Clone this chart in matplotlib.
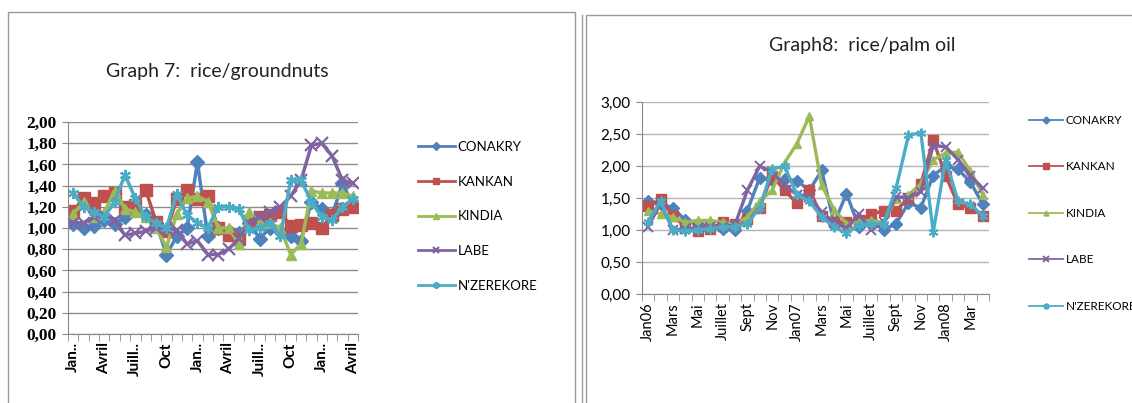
import numpy as np
import matplotlib
matplotlib.use("Agg")
import matplotlib.pyplot as plt
from matplotlib.patches import Rectangle
from matplotlib.lines import Line2D

# series names and Excel-like colours
cities = ["CONAKRY", "KANKAN", "KINDIA", "LABE", "N'ZEREKORE"]
colors = ["#4F81BD", "#C0504D", "#9BBB59", "#8064A2", "#4BACC6"]
markers = ["D", "s", "^", "x", (6, 2, 0)]

# Graph 7: rice/groundnuts, Jan 06 .. Avril 08 (28 months)
g7_labels = ["Jan..", "Avril", "Juill..", "Oct", "Jan..", "Avril", "Juill..", "Oct", "Jan..", "Avril"]
g7_conakry = [1.04, 1.00, 1.02, 1.08, 1.04, 1.10, 1.18, 1.12, 1.05, 0.75, 0.92, 1.00, 1.62, 0.92,
              1.00, 0.97, 0.95, 1.05, 0.90, 1.00, 0.97, 0.92, 0.88, 1.25, 1.18, 1.12, 1.42, 1.22]
g7_kankan = [1.16, 1.28, 1.24, 1.30, 1.33, 1.20, 1.22, 1.36, 1.06, 0.97, 1.27, 1.36, 1.27, 1.30,
             1.00, 0.93, 0.90, 1.07, 1.10, 1.12, 1.15, 1.02, 1.03, 1.05, 1.00, 1.12, 1.18, 1.20]
g7_kindia = [1.13, 1.25, 1.10, 1.15, 1.35, 1.18, 1.15, 1.10, 1.00, 0.82, 1.13, 1.28, 1.30, 1.25,
             1.00, 1.00, 0.85, 1.15, 1.05, 1.05, 1.00, 0.75, 0.85, 1.35, 1.33, 1.33, 1.33, 1.30]
g7_labe = [1.05, 1.05, 1.10, 1.12, 1.08, 0.93, 0.95, 0.97, 1.00, 1.00, 0.98, 0.85, 0.88, 0.75,
           0.75, 0.80, 0.90, 1.05, 1.10, 1.15, 1.20, 1.30, 1.45, 1.78, 1.80, 1.68, 1.45, 1.42]
g7_nzerekore = [1.33, 1.20, 1.15, 1.10, 1.25, 1.50, 1.28, 1.10, 1.05, 1.00, 1.32, 1.12, 1.05, 1.00,
                1.20, 1.20, 1.18, 0.98, 1.00, 1.05, 0.92, 1.45, 1.45, 1.25, 1.10, 1.08, 1.20, 1.27]

# Graph 8: rice/palm oil, Jan06 .. Avr08 (28 months)
g8_labels = ["Jan06", "Mars", "Mai", "Juillet", "Sept", "Nov", "Jan07", "Mars", "Mai",
             "Juillet", "Sept", "Nov", "Jan08", "Mar"]
g8_conakry = [1.45, 1.40, 1.35, 1.15, 1.10, 1.05, 1.02, 1.00, 1.30, 1.82, 1.78, 1.80, 1.77, 1.62,
              1.93, 1.10, 1.57, 1.05, 1.15, 1.00, 1.10, 1.42, 1.35, 1.85, 2.00, 1.95, 1.75, 1.40]
g8_kankan = [1.37, 1.48, 1.22, 1.05, 0.98, 1.02, 1.12, 1.10, 1.17, 1.35, 1.85, 1.62, 1.42, 1.63,
             1.22, 1.13, 1.12, 1.15, 1.25, 1.30, 1.30, 1.50, 1.72, 2.40, 1.85, 1.40, 1.35, 1.22]
g8_kindia = [1.30, 1.25, 1.20, 1.12, 1.15, 1.15, 1.12, 1.10, 1.20, 1.45, 1.62, 2.05, 2.35, 2.78,
             1.70, 1.32, 1.10, 1.12, 1.15, 1.12, 1.48, 1.55, 1.72, 2.10, 2.20, 2.22, 1.92, 1.55]
g8_labe = [1.05, 1.42, 1.00, 1.02, 1.03, 1.05, 1.05, 1.08, 1.62, 2.00, 1.90, 1.70, 1.55, 1.52,
           1.28, 1.12, 1.03, 1.25, 1.00, 1.12, 1.52, 1.50, 1.60, 2.32, 2.30, 2.10, 1.85, 1.65]
g8_nzerekore = [1.13, 1.45, 1.00, 0.98, 1.00, 1.02, 1.05, 1.05, 1.10, 1.35, 1.95, 2.00, 1.55, 1.45,
                1.20, 1.05, 0.95, 1.08, 1.10, 1.10, 1.65, 2.48, 2.52, 0.97, 2.10, 1.45, 1.40, 1.22]

W, H = 1132, 403


def comma(v, pos=None):
    return f"{v:.2f}".replace(".", ",")


def setup_axis(ax, n, step, labels, ymax, ystep, gridcol, xfont, yfont):
    ax.set_xlim(-0.5, n - 0.5)
    ax.set_ylim(0, ymax)
    ax.set_xticks(np.arange(0, n, step)[:len(labels)])
    ax.set_xticklabels(labels, rotation=90, **xfont)
    ax.set_xticks(np.arange(-0.5, n, 1), minor=True)
    ax.tick_params(axis="x", which="major", length=0, pad=6)
    ax.tick_params(axis="x", which="minor", length=5, color="#888888", direction="out")
    yt = np.arange(0, ymax + 1e-9, ystep)
    ax.set_yticks(yt)
    ax.set_yticklabels([comma(v) for v in yt], **yfont)
    ax.tick_params(axis="y", length=4, color="#888888", pad=4)
    ax.yaxis.grid(True, color=gridcol, lw=1)
    ax.set_axisbelow(True)
    for s in ["top", "right"]:
        ax.spines[s].set_visible(False)
    for s in ["left", "bottom"]:
        ax.spines[s].set_color("#888888")


def main():
    fig = plt.figure(figsize=(W / 100, H / 100), dpi=100)

    # frames of the two Excel chart objects
    fig.add_artist(Rectangle((8 / W, -0.05), 567 / W, 1.05 - 12 / H, transform=fig.transFigure,
                             fill=False, edgecolor="#9a9a9a", lw=1))
    fig.add_artist(Rectangle((586 / W, -0.05), 0.6, 1.05 - 15 / H, transform=fig.transFigure,
                             fill=False, edgecolor="#9a9a9a", lw=1))
    fig.add_artist(Line2D([582 / W, 582 / W], [0, 1 - 15 / H], transform=fig.transFigure,
                          color="#9a9a9a", lw=1))

    # Graph 7
    ax1 = fig.add_axes([68 / W, 1 - 334 / H, 290 / W, 212 / H])
    g7 = [g7_conakry, g7_kankan, g7_kindia, g7_labe, g7_nzerekore]
    x = np.arange(len(g7_conakry))
    for vals, c, m, name in zip(g7, colors, markers, cities):
        ms = 7 if m in ("D", "^") else 8
        ax1.plot(x, vals, color=c, lw=2.5, marker=m, ms=ms, mew=1.6 if m in ("x", (6, 2, 0)) else 1,
                 mec=c, label=name)
    setup_axis(ax1, len(x), 3, g7_labels, 2.0, 0.2, "#8c8c8c",
               dict(fontsize=11, fontweight="bold", family="Lato"),
               dict(fontsize=12.5, fontweight="bold", family="Liberation Serif"))
    fig.text(217 / W, 1 - 72 / H, "Graph 7:  rice/groundnuts", ha="center", va="center",
             fontsize=14, family="Lato", color="#222222")
    h, l = ax1.get_legend_handles_labels()
    fig.legend(h, l, loc="upper left", bbox_to_anchor=(418 / W, 1 - 141 / H), frameon=False,
               prop=dict(family="Lato", size=9.5), handlelength=2.8, handletextpad=0.2,
               labelspacing=1.72, markerscale=0.6, borderpad=0, borderaxespad=0)

    # Graph 8
    ax2 = fig.add_axes([642 / W, 1 - 294 / H, 347 / W, 192 / H])
    g8 = [g8_conakry, g8_kankan, g8_kindia, g8_labe, g8_nzerekore]
    x = np.arange(len(g8_conakry))
    for vals, c, m, name in zip(g8, colors, markers, cities):
        ms = 6 if m in ("D", "^") else 7
        ax2.plot(x, vals, color=c, lw=2.4, marker=m, ms=ms, mew=1.4 if m in ("x", (6, 2, 0)) else 1,
                 mec=c, label=name)
    setup_axis(ax2, len(x), 2, g8_labels, 3.0, 0.5, "#b4b4b4",
               dict(fontsize=10.5, family="Lato"),
               dict(fontsize=11, family="Lato"))
    fig.text(862 / W, 1 - 46 / H, "Graph8:  rice/palm oil", ha="center", va="center",
             fontsize=14, family="Lato", color="#222222")
    h, l = ax2.get_legend_handles_labels()
    fig.legend(h, l, loc="upper left", bbox_to_anchor=(1029 / W, 1 - 115 / H), frameon=False,
               prop=dict(family="Lato", size=8.5), handlelength=2.9, handletextpad=0.2,
               labelspacing=3.0, markerscale=0.6, borderpad=0, borderaxespad=0)
    for lh in fig.legends[-1].legend_handles:
        lh.set_linewidth(1.3)
    for lh in fig.legends[0].legend_handles:
        lh.set_linewidth(2.0)

    fig.savefig("out.png", dpi=100, facecolor="white")


if __name__ == "__main__":
    main()
